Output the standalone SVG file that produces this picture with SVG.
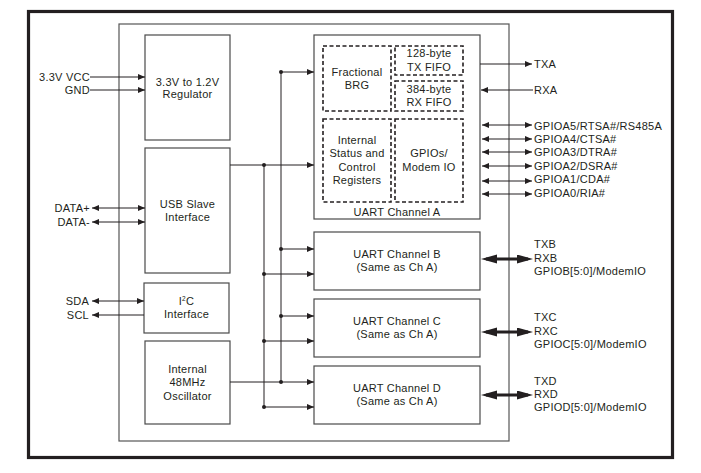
<svg xmlns="http://www.w3.org/2000/svg" width="701" height="473" viewBox="0 0 701 473">
<defs>
<style>
text{font-family:"Liberation Sans",Arial,sans-serif;font-size:11px;letter-spacing:0.25px;fill:#231f20}
.c{text-anchor:middle}
.e{text-anchor:end}
.box{fill:#fff;stroke:#4a4a4a;stroke-width:1.2}
.dash{fill:none;stroke:#231f20;stroke-width:1.6;stroke-dasharray:4,2.5}
.w{fill:none;stroke:#231f20;stroke-width:1}
.thick{fill:none;stroke:#231f20;stroke-width:3}
.dot{fill:#231f20}
</style>
<marker id="a" markerUnits="userSpaceOnUse" markerWidth="8" markerHeight="7" refX="7" refY="3" orient="auto-start-reverse"><path d="M0,0 L7,3 L0,6 z" fill="#231f20"/></marker>
<marker id="ta" markerUnits="userSpaceOnUse" markerWidth="17" markerHeight="10" refX="11" refY="4.5" orient="auto-start-reverse"><path d="M0,0 L16,4.5 L0,9 z" fill="#231f20"/></marker>
</defs>
<rect width="701" height="473" fill="#fff"/>
<rect x="28.5" y="11.5" width="644" height="446" fill="none" stroke="#231f20" stroke-width="3.2"/>
<rect id="chip" x="119" y="24" width="390" height="417" fill="#fff" stroke="#555" stroke-width="1.2"/>

<g id="regulator"><rect class="box" x="145" y="35" width="85" height="105"/><text class="c" x="187.5" y="86">3.3V to 1.2V</text><text class="c" x="187.5" y="98">Regulator</text></g>
<g id="usb"><rect class="box" x="145" y="148" width="85" height="125"/><text class="c" x="187.5" y="208">USB Slave</text><text class="c" x="187.5" y="221">Interface</text></g>
<g id="i2c"><rect class="box" x="144" y="283" width="85" height="50"/><text class="c" x="186.5" y="305">I<tspan font-size="6.5" dy="-4">2</tspan><tspan dy="4">C</tspan></text><text class="c" x="186.5" y="318">Interface</text></g>
<g id="osc"><rect class="box" x="145" y="341" width="85" height="83"/><text class="c" x="187.5" y="373">Internal</text><text class="c" x="187.5" y="386">48MHz</text><text class="c" x="187.5" y="400">Oscillator</text></g>

<g id="uartA"><rect class="box" x="314" y="35" width="166" height="184"/>
<rect class="dash" x="323" y="46" width="68" height="65"/><text class="c" x="357" y="76">Fractional</text><text class="c" x="357" y="89">BRG</text>
<rect class="dash" x="395" y="46" width="68" height="29"/><text class="c" x="429" y="57">128-byte</text><text class="c" x="429" y="71">TX FIFO</text>
<rect class="dash" x="395" y="81" width="68" height="30"/><text class="c" x="429" y="93">384-byte</text><text class="c" x="429" y="106">RX FIFO</text>
<rect class="dash" x="323" y="119" width="68" height="83"/><text class="c" x="357" y="144">Internal</text><text class="c" x="357" y="157">Status and</text><text class="c" x="357" y="171">Control</text><text class="c" x="357" y="184">Registers</text>
<rect class="dash" x="395" y="119" width="68" height="83"/><text class="c" x="429" y="157">GPIOs/</text><text class="c" x="429" y="171">Modem IO</text>
<text class="c" x="397" y="216">UART Channel A</text></g>

<g id="uartB"><rect class="box" x="314" y="232" width="166" height="58"/><text class="c" x="397" y="258">UART Channel B</text><text class="c" x="397" y="271">(Same as Ch A)</text></g>
<g id="uartC"><rect class="box" x="314" y="299" width="166" height="58"/><text class="c" x="397" y="325">UART Channel C</text><text class="c" x="397" y="338">(Same as Ch A)</text></g>
<g id="uartD"><rect class="box" x="314" y="366" width="166" height="58"/><text class="c" x="397" y="392">UART Channel D</text><text class="c" x="397" y="405">(Same as Ch A)</text></g>

<g id="labels">
<text class="e" x="90" y="81">3.3V VCC</text><text class="e" x="90" y="94">GND</text>
<text class="e" x="90" y="212">DATA+</text><text class="e" x="90" y="226">DATA-</text>
<text class="e" x="89" y="305">SDA</text><text class="e" x="89" y="319">SCL</text>
<text x="534" y="68">TXA</text><text x="534" y="94">RXA</text>
<text x="534" y="130">GPIOA5/RTSA#/RS485A</text>
<text x="534" y="143">GPIOA4/CTSA#</text>
<text x="534" y="156">GPIOA3/DTRA#</text>
<text x="534" y="170">GPIOA2/DSRA#</text>
<text x="534" y="183">GPIOA1/CDA#</text>
<text x="534" y="197">GPIOA0/RIA#</text>
<text x="534" y="248">TXB</text><text x="534" y="262">RXB</text><text x="534" y="275">GPIOB[5:0]/ModemIO</text>
<text x="534" y="321">TXC</text><text x="534" y="335">RXC</text><text x="534" y="348">GPIOC[5:0]/ModemIO</text>
<text x="534" y="385">TXD</text><text x="534" y="398">RXD</text><text x="534" y="411">GPIOD[5:0]/ModemIO</text>
</g>

<g id="connectors">
<path class="w" d="M90,77 H145" marker-end="url(#a)"/>
<path class="w" d="M90,90 H145" marker-end="url(#a)"/>
<path class="w" d="M92,208 H145" marker-start="url(#a)" marker-end="url(#a)"/>
<path class="w" d="M92,222 H145" marker-start="url(#a)" marker-end="url(#a)"/>
<path class="w" d="M92,301 H144" marker-start="url(#a)" marker-end="url(#a)"/>
<path class="w" d="M144,315 H92" marker-end="url(#a)"/>
<path class="w" d="M281,72 V382"/>
<path class="w" d="M264,165 V407"/>
<path class="w" d="M281,72 H314" marker-end="url(#a)"/>
<path class="w" d="M230,165 H314" marker-end="url(#a)"/>
<path class="w" d="M281,249 H314" marker-end="url(#a)"/>
<path class="w" d="M264,274 H314" marker-end="url(#a)"/>
<path class="w" d="M281,316 H314" marker-end="url(#a)"/>
<path class="w" d="M264,341 H314" marker-end="url(#a)"/>
<path class="w" d="M230,382 H314" marker-end="url(#a)"/>
<path class="w" d="M264,407 H314" marker-end="url(#a)"/>
<circle class="dot" cx="281" cy="72" r="2"/>
<circle class="dot" cx="264" cy="165" r="2"/>
<circle class="dot" cx="281" cy="249" r="2"/>
<circle class="dot" cx="264" cy="274" r="2"/>
<circle class="dot" cx="281" cy="316" r="2"/>
<circle class="dot" cx="264" cy="341" r="2"/>
<circle class="dot" cx="281" cy="382" r="2"/>
<circle class="dot" cx="264" cy="407" r="2"/>
<path class="w" d="M480,64 H532" marker-end="url(#a)"/>
<path class="w" d="M533,90 H481" marker-end="url(#a)"/>
<path class="w" d="M482,125 H532" marker-start="url(#a)" marker-end="url(#a)"/>
<path class="w" d="M482,139 H532" marker-start="url(#a)" marker-end="url(#a)"/>
<path class="w" d="M482,152 H532" marker-start="url(#a)" marker-end="url(#a)"/>
<path class="w" d="M482,166 H532" marker-start="url(#a)" marker-end="url(#a)"/>
<path class="w" d="M482,181 H532" marker-start="url(#a)" marker-end="url(#a)"/>
<path class="w" d="M482,194 H532" marker-start="url(#a)" marker-end="url(#a)"/>
<path class="thick" d="M486,259 H528" marker-start="url(#ta)" marker-end="url(#ta)"/>
<path class="thick" d="M486,332 H528" marker-start="url(#ta)" marker-end="url(#ta)"/>
<path class="thick" d="M486,395 H528" marker-start="url(#ta)" marker-end="url(#ta)"/>
</g>
</svg>
